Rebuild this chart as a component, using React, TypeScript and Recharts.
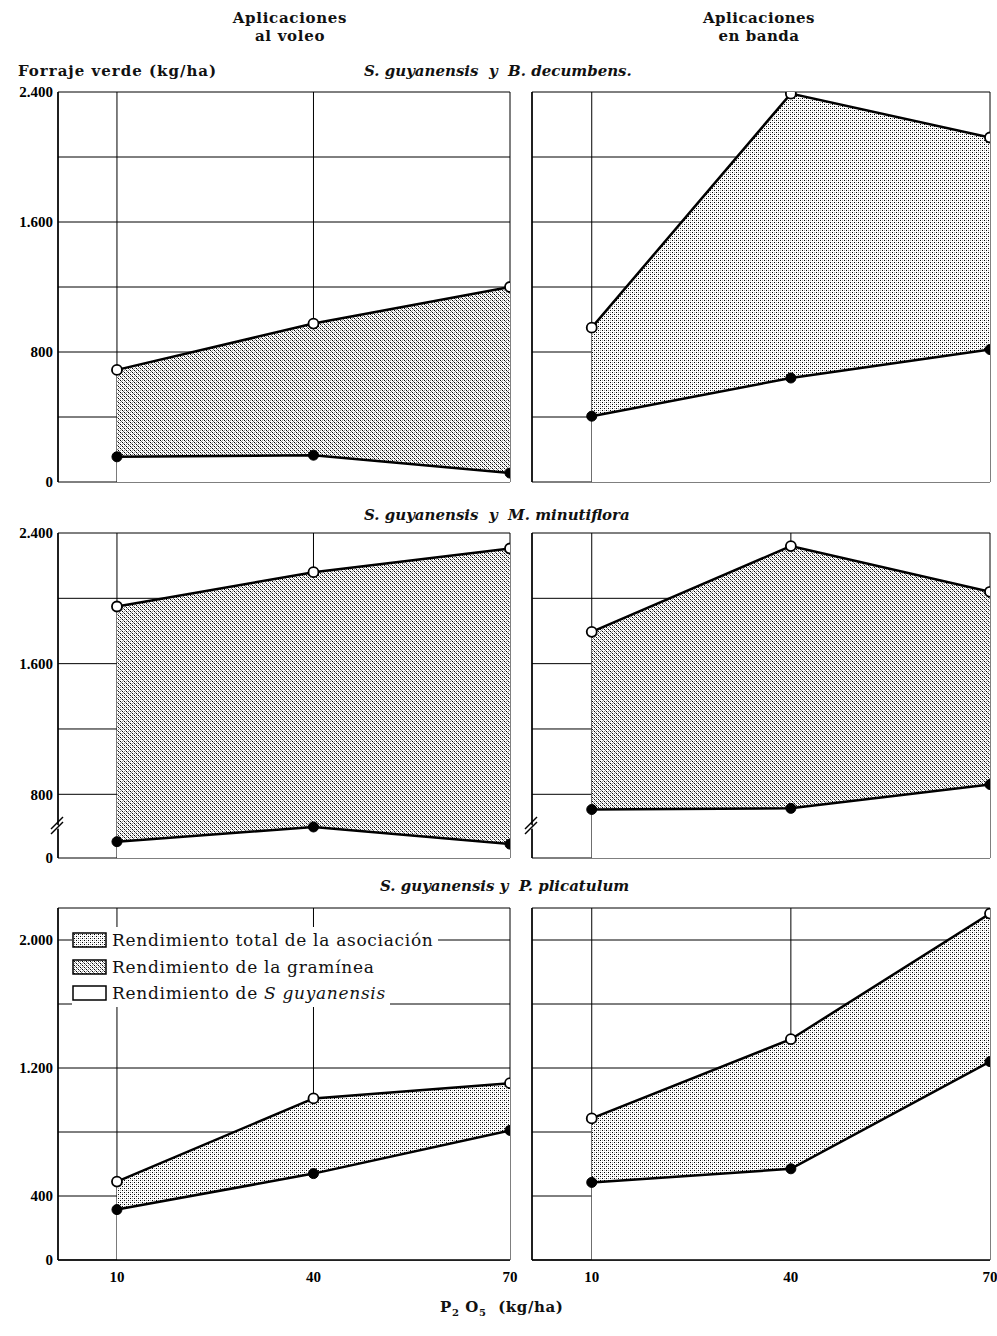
import React from 'react';
import { ComposedChart, Area, Line, XAxis, YAxis, CartesianGrid, ReferenceDot } from 'recharts';

// P2O5 applied (kg/ha)
const P2O5 = [10, 40, 70];

// S. guyanensis y B. decumbens
const decVoleoTotal = [690, 975, 1200];
const decVoleoGram = [155, 165, 55];
const decBandaTotal = [950, 2390, 2120];
const decBandaGram = [405, 640, 815];

// S. guyanensis y M. minutiflora (broken axis: bottom labelled 0)
const minVoleoTotal = [1950, 2160, 2305];
const minVoleoGram = [510, 600, 495];
const minBandaTotal = [1795, 2320, 2040];
const minBandaGram = [707, 714, 860];

// S. guyanensis y P. plicatulum
const pliVoleoTotal = [490, 1010, 1105];
const pliVoleoGram = [315, 540, 810];
const pliBandaTotal = [885, 1380, 2165];
const pliBandaGram = [485, 570, 1240];

// axes
const topTicks = [0, 400, 800, 1200, 1600, 2000, 2400];
const topLabels: Record<number, string> = { 0: '0', 800: '800', 1600: '1.600', 2400: '2.400' };
const midTicks = [410, 800, 1200, 1600, 2000, 2400];
const midLabels: Record<number, string> = { 410: '0', 800: '800', 1600: '1.600', 2400: '2.400' };
const botTicks = [0, 400, 800, 1200, 1600, 2000, 2200];
const botLabels: Record<number, string> = { 0: '0', 400: '400', 1200: '1.200', 2000: '2.000' };
const xDomain = [1, 70];
const breakValue = 630;

const legendItems = [
  { label: 'Rendimiento total de la asociación', kind: 'total' },
  { label: 'Rendimiento de la gramínea', kind: 'gram' },
  { label: 'Rendimiento de ', italic: 'S guyanensis', kind: 'sg' },
];

const SERIF = '"Liberation Serif", "DejaVu Serif", serif';
const WIDE = '"DejaVu Serif", "Liberation Serif", serif';

const build = (total: number[], gram: number[]) =>
  P2O5.map((p, i) => ({ p, total: total[i], gram: gram[i], band: [gram[i], total[i]] }));

const Patterns = () => (
  <defs>
    <pattern id="stip" width="4" height="4" patternUnits="userSpaceOnUse">
      <rect width="4" height="4" fill="#fff" />
      <rect x="0" y="0" width="1" height="1" fill="#000" />
      <rect x="2" y="2" width="1" height="1" fill="#000" />
      <rect x="2" y="0" width="1" height="1" fill="#aaa" />
      <rect x="0" y="2" width="1" height="1" fill="#aaa" />
    </pattern>
    <pattern id="cross" width="4" height="4" patternUnits="userSpaceOnUse">
      <rect width="4" height="4" fill="#fff" />
      <rect x="0" y="0" width="1" height="1" fill="#000" />
      <rect x="2" y="2" width="1" height="1" fill="#000" />
      <rect x="1" y="1" width="1" height="1" fill="#777" />
      <rect x="3" y="3" width="1" height="1" fill="#777" />
      <rect x="2" y="0" width="1" height="1" fill="#999" />
      <rect x="0" y="2" width="1" height="1" fill="#999" />
    </pattern>
  </defs>
);

const BreakMark = (props: any) => {
  const { cx, cy } = props;
  if (cx == null || cy == null) return null;
  return (
    <g stroke="#000" strokeWidth={1.4}>
      <line x1={cx - 3} y1={cy + 3} x2={cx + 1} y2={cy + 6} stroke="#fff" strokeWidth={3} />
      <line x1={cx - 7} y1={cy + 7} x2={cx + 5} y2={cy - 5} />
      <line x1={cx - 7} y1={cy + 12} x2={cx + 5} y2={cy} />
    </g>
  );
};

const LegendBox = () => (
  <div style={{ fontFamily: WIDE, fontSize: 17, letterSpacing: 0.7, color: '#111', lineHeight: '26.5px' }}>
    {legendItems.map((it) => (
      <div key={it.label} style={{ display: 'flex', alignItems: 'center' }}>
        <div style={{ background: '#fff', display: 'flex', alignItems: 'center', paddingRight: 4 }}>
          <svg width={35} height={16} style={{ marginRight: 5 }}>
            <rect x={1} y={1} width={33} height={14}
              fill={it.kind === 'total' ? 'url(#stip)' : it.kind === 'gram' ? 'url(#cross)' : '#fff'}
              stroke="#000" strokeWidth={1.5} />
          </svg>
          <span>
            {it.label}
            {it.italic ? <i>{it.italic}</i> : null}
          </span>
        </div>
      </div>
    ))}
  </div>
);

const EmptyTick = () => <g />;

type PanelProps = {
  total: number[];
  gram: number[];
  side: 'left' | 'right';
  row: 'top' | 'mid' | 'bot';
  fill: string;
};

const Panel = ({ total, gram, side, row, fill }: PanelProps) => {
  const data = build(total, gram);
  const plotH = row === 'top' ? 390 : row === 'mid' ? 325 : 352;
  const xH = row === 'bot' ? 28 : 0;
  const mBottom = row === 'bot' ? 0 : 8;
  const height = 8 + plotH + xH + mBottom;
  const width = side === 'left' ? 518 : 474;
  const ticks = row === 'top' ? topTicks : row === 'mid' ? midTicks : botTicks;
  const labels = row === 'top' ? topLabels : row === 'mid' ? midLabels : botLabels;
  const domain = [ticks[0], ticks[ticks.length - 1]];
  const tickStyle = { fontFamily: SERIF, fontSize: 15, fontWeight: 700, fill: '#000' };
  return (
    <ComposedChart width={width} height={height} data={data}
      margin={{ top: 8, right: 8, bottom: mBottom, left: side === 'left' ? 0 : 6 }}>
      <Patterns />
      <CartesianGrid stroke="#000" strokeWidth={1} horizontal vertical />
      <XAxis dataKey="p" type="number" domain={xDomain} ticks={P2O5} allowDataOverflow
        height={xH} axisLine={{ stroke: '#000', strokeWidth: 1.5 }} tickLine={false}
        tick={row === 'bot' ? tickStyle : EmptyTick} tickMargin={5} interval={0} />
      <YAxis type="number" domain={domain} ticks={ticks} interval={0} allowDataOverflow
        width={side === 'left' ? 58 : 2} axisLine={{ stroke: '#000', strokeWidth: 1.5 }} tickLine={false}
        tickSize={2} tickMargin={3}
        tick={side === 'left' ? tickStyle : EmptyTick}
        tickFormatter={(v: number) => labels[v] ?? ''} />
      <Area dataKey="gram" type="linear" fill="#fff" fillOpacity={1} stroke="none" isAnimationActive={false} />
      <Area dataKey="band" type="linear" fill={fill} fillOpacity={1} stroke="none" isAnimationActive={false} />
      <Line dataKey="gram" type="linear" stroke="#000" strokeWidth={2.5} isAnimationActive={false}
        dot={{ r: 5, fill: '#000', stroke: '#000', strokeWidth: 1 }} />
      <Line dataKey="total" type="linear" stroke="#000" strokeWidth={2.5} isAnimationActive={false}
        dot={{ r: 5, fill: '#fff', stroke: '#000', strokeWidth: 1.8 }} />
      {row === 'mid' ? (
        <ReferenceDot x={xDomain[0]} y={breakValue} ifOverflow="visible" shape={BreakMark} />
      ) : null}
    </ComposedChart>
  );
};

const txt = (extra: React.CSSProperties): React.CSSProperties => ({
  position: 'absolute', fontFamily: WIDE, color: '#111', whiteSpace: 'nowrap', ...extra,
});

export default function App() {
  return (
    <div style={{ position: 'absolute', left: 0, top: 0, width: 997, height: 1336, background: '#fff' }}>
      <div style={txt({ left: 190, width: 200, top: 9, textAlign: 'center', fontSize: 15, letterSpacing: 0.7, lineHeight: '18px', fontWeight: 700 })}>
        Aplicaciones<br />al voleo
      </div>
      <div style={txt({ left: 659, width: 200, top: 9, textAlign: 'center', fontSize: 15, letterSpacing: 0.5, lineHeight: '18px', fontWeight: 700 })}>
        Aplicaciones<br />en banda
      </div>
      <div style={txt({ left: 18, top: 62, fontSize: 15, letterSpacing: 1, fontWeight: 700 })}>Forraje verde (kg/ha)</div>
      <div style={txt({ left: 364, top: 62, fontSize: 15, fontStyle: 'italic', fontWeight: 700 })}>
        S. guyanensis&nbsp;&nbsp;y&nbsp;&nbsp;B. decumbens.
      </div>
      <div style={txt({ left: 364, top: 506, fontSize: 15, fontStyle: 'italic', fontWeight: 700 })}>
        S. guyanensis&nbsp;&nbsp;y&nbsp;&nbsp;M. minutiflora
      </div>
      <div style={txt({ left: 380, top: 877, fontSize: 15, fontStyle: 'italic', fontWeight: 700 })}>
        S. guyanensis y&nbsp;&nbsp;P. plicatulum
      </div>

      <div style={{ position: 'absolute', left: 0, top: 84 }}>
        <Panel total={decVoleoTotal} gram={decVoleoGram} side="left" row="top" fill="url(#cross)" />
      </div>
      <div style={{ position: 'absolute', left: 524, top: 84 }}>
        <Panel total={decBandaTotal} gram={decBandaGram} side="right" row="top" fill="url(#stip)" />
      </div>
      <div style={{ position: 'absolute', left: 0, top: 525 }}>
        <Panel total={minVoleoTotal} gram={minVoleoGram} side="left" row="mid" fill="url(#cross)" />
      </div>
      <div style={{ position: 'absolute', left: 524, top: 525 }}>
        <Panel total={minBandaTotal} gram={minBandaGram} side="right" row="mid" fill="url(#cross)" />
      </div>
      <div style={{ position: 'absolute', left: 0, top: 900 }}>
        <Panel total={pliVoleoTotal} gram={pliVoleoGram} side="left" row="bot" fill="url(#stip)" />
      </div>
      <div style={{ position: 'absolute', left: 524, top: 900 }}>
        <Panel total={pliBandaTotal} gram={pliBandaGram} side="right" row="bot" fill="url(#stip)" />
      </div>

      <div style={{ position: 'absolute', left: 72, top: 927 }}>
        <LegendBox />
      </div>

      <div style={txt({ left: 440, top: 1298, fontSize: 15, letterSpacing: 0.6, fontWeight: 700 })}>
        P<sub style={{ fontSize: 10 }}>2</sub> O<sub style={{ fontSize: 10 }}>5</sub>&nbsp;&nbsp;(kg/ha)
      </div>
    </div>
  );
}
